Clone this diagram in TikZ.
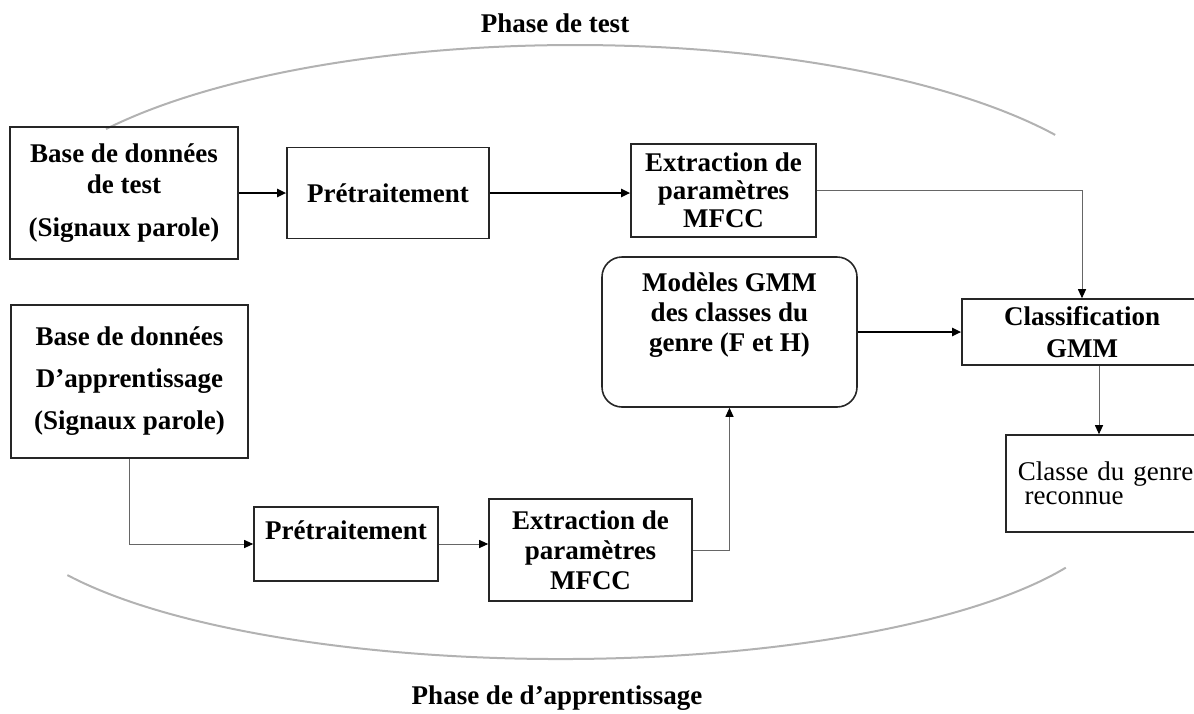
\documentclass[tikz,border=0pt]{standalone}
\usepackage{fontspec}
\setmainfont{Liberation Serif}
\usetikzlibrary{arrows.meta}
\begin{document}
\begin{tikzpicture}[x=0.5pt,y=0.5pt,
  box/.style={draw=black!85, line width=0.8pt, inner sep=1pt, align=center},
  bf/.style={font=\bfseries\fontsize{13.5}{#1}\selectfont},
  title/.style={font=\bfseries\fontsize{13.5}{16}\selectfont},
  flow/.style={line width=1pt, -{Triangle[length=4.5pt,width=4pt]}},
  link/.style={line width=0.5pt, draw=black!60, -{Triangle[length=4.5pt,width=4pt,color=black]}},
  phase/.style={draw=black!30, line width=1pt}
]
\useasboundingbox (0,0) rectangle (1194,-713);

% the two phase outlines
\draw[phase] (106.05,-129.04) arc[start angle=146.1, end angle=31.8, x radius=565, y radius=190];
\draw[phase] (67.4,-575.1) arc[start angle=208.4, end angle=334.6, x radius=560, y radius=160];

% phase titles
\node[title] (t-test) at (555,-23) {Phase de test};
\node[title] (t-app) at (557,-698) {Phase de d’apprentissage};

% test chain
\node[box, bf=15.5pt, minimum width=114pt, minimum height=66pt] (dbtest) at (124,-193)
  {Base de données\\de test\\[6pt](Signaux parole)};
\node[box, bf=15pt, minimum width=101pt, minimum height=45.5pt] (pre1) at (388,-193)
  {Prétraitement};
\node[box, bf=14pt, minimum width=92.5pt, minimum height=46.5pt] (mfcc1) at (723.5,-190.5)
  {Extraction de\\paramètres\\MFCC};

% models and classification
\node[box, bf=15pt, rounded corners=10pt, minimum width=127.5pt, minimum height=75pt, text depth=20pt] (gmm) at (729.5,-332)
  {Modèles GMM\\des classes du\\genre (F et H)};
\node[box, bf=16pt, minimum width=120pt, minimum height=33pt] (classif) at (1082,-332)
  {Classification\\GMM};
\node[box, font=\fontsize{13.5}{12}\selectfont, align=left, text width=95pt, inner xsep=6pt, minimum height=48.5pt, anchor=west] (result) at (1005,-483.5)
  {Classe du genre\\\hspace*{0.25em}reconnue};

% training chain
\node[box, bf=21pt, minimum width=118.5pt, minimum height=76.5pt] (dbtrain) at (129.5,-381.5)
  {Base de données\\D’apprentissage\\(Signaux parole)};
\node[box, bf=15pt, minimum width=92pt, minimum height=37pt, text depth=14pt] (pre2) at (346,-544)
  {Prétraitement};
\node[box, bf=15pt, minimum width=101.5pt, minimum height=51pt] (mfcc2) at (590.5,-550)
  {Extraction de\\paramètres\\MFCC};

% connectors
\draw[flow] (dbtest) -- (pre1);
\draw[flow] (pre1.east) -- (pre1.east -| mfcc1.west);
\draw[link] (mfcc1.east) -| (classif.north);
\draw[flow] (gmm) -- (classif);
\draw[link] ([xshift=8.5pt]classif.south) -- ([xshift=8.5pt]classif.south |- result.north);
\draw[link] (dbtrain.south) |- (pre2.west);
\draw[link] (pre2.east) -- (pre2.east -| mfcc2.west);
\draw[link] (mfcc2.east) -| (gmm.south);
\end{tikzpicture}
\end{document}
